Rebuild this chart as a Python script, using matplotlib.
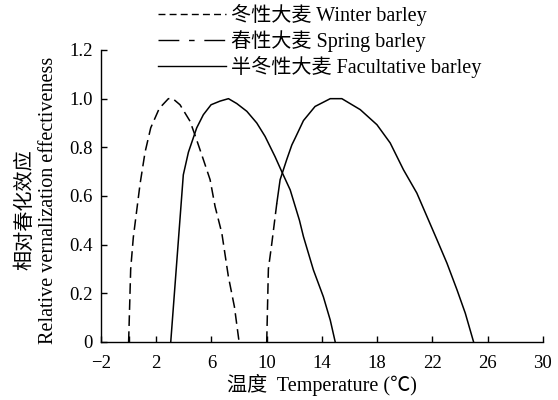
import matplotlib
matplotlib.use("Agg")
import matplotlib.pyplot as plt
from matplotlib.lines import Line2D

plt.rcParams['font.family'] = ['Liberation Serif', 'Noto Sans CJK SC']
plt.rcParams['axes.unicode_minus'] = True

# Data
# curve peaking near 3 C (drawn dashed)
winter_t = [0.0, 0.15, 0.34, 0.83, 1.19, 1.6, 2.22, 2.88, 3.2, 3.72, 4.45, 4.93,
            5.41, 5.9, 6.26, 6.75, 7.22, 7.66, 8.0]
winter_e = [0.0, 0.30, 0.43, 0.65, 0.78, 0.88, 0.96, 1.0, 1.0, 0.975, 0.907, 0.83,
            0.75, 0.667, 0.557, 0.447, 0.27, 0.145, 0.0]

# curve peaking near 7 C (solid)
facult_t = [3.05, 3.96, 4.33, 4.93, 5.41, 5.97, 6.62, 7.23, 7.83, 8.56, 9.28, 9.88,
            10.6, 11.09, 11.7, 12.37, 12.66, 13.38, 14.1, 14.6, 14.96]
facult_e = [0.0, 0.687, 0.78, 0.88, 0.934, 0.975, 0.99, 1.0, 0.98, 0.948, 0.9, 0.845,
            0.762, 0.70, 0.625, 0.50, 0.433, 0.296, 0.186, 0.09, 0.0]

# curve peaking near 15 C: dashed lower part, then solid
spring_t_low = [10.0, 10.12, 10.37, 10.73]
spring_e_low = [0.0, 0.30, 0.406, 0.57]
spring_t = [10.73, 10.97, 11.45, 11.82, 12.06, 12.66, 13.5, 14.6, 15.44, 16.77, 17.98,
            18.94, 19.9, 20.87, 21.6, 22.33, 23.05, 23.78, 24.38, 24.98]
spring_e = [0.57, 0.667, 0.75, 0.81, 0.838, 0.91, 0.968, 1.0, 1.0, 0.955, 0.893,
            0.818, 0.708, 0.612, 0.516, 0.42, 0.324, 0.214, 0.118, 0.0]

x_ticks = [-2, 0, 2, 6, 10, 14, 18, 22, 26, 30]
x_labels = ['\u22122', '', '2', '6', '10', '14', '18', '22', '26', '30']
y_ticks = [0, 0.2, 0.4, 0.6, 0.8, 1.0, 1.2]
y_labels = ['0', '0.2', '0.4', '0.6', '0.8', '1.0', '1.2']

legend_labels = ['冬性大麦 Winter barley', '春性大麦 Spring barley',
                 '半冬性大麦 Facultative barley']

fig = plt.figure(figsize=(5.58, 4.0), dpi=100)
ax = fig.add_axes([0.181, 0.145, 0.792, 0.73])

lw = 1.1
ax.plot(winter_t, winter_e, color='black', lw=lw, dashes=(7, 3.5))
ax.plot(facult_t, facult_e, color='black', lw=lw)
ax.plot(spring_t_low, spring_e_low, color='black', lw=lw, dashes=(7, 3.5))
ax.plot(spring_t, spring_e, color='black', lw=lw)

ax.set_xlim(-2, 30)
ax.set_ylim(0, 1.2)
ax.set_xticks(x_ticks)
ax.set_xticklabels(x_labels)
ax.set_yticks(y_ticks)
ax.set_yticklabels(y_labels)
ax.tick_params(direction='in', length=4, width=1, labelsize=13.5)
ax.tick_params(axis='x', pad=9)
ax.tick_params(axis='y', pad=6)
ax.spines['top'].set_visible(False)
ax.spines['right'].set_visible(False)
for s in ['left', 'bottom']:
    ax.spines[s].set_linewidth(1)

ax.set_xlabel('温度  Temperature (℃)', fontsize=14.5, labelpad=2)

fig.text(0.046, 0.475, '相对春化效应', rotation=90, fontsize=14.5,
         ha='center', va='center')
fig.text(0.087, 0.50, 'Relative vernalization effectiveness', rotation=90,
         fontsize=14.5, ha='center', va='center')

handles = [
    Line2D([], [], color='black', lw=1, dashes=(5, 3)),
    Line2D([], [], color='black', lw=1, dashes=(15, 7, 4, 7)),
    Line2D([], [], color='black', lw=1),
]
fig.legend(handles, legend_labels, loc='upper left',
           bbox_to_anchor=(0.268, 1.01), frameon=False, fontsize=14.5,
           handlelength=3.4, handletextpad=0.25, labelspacing=0.2,
           borderaxespad=0)

fig.savefig('out.png', dpi=100)
